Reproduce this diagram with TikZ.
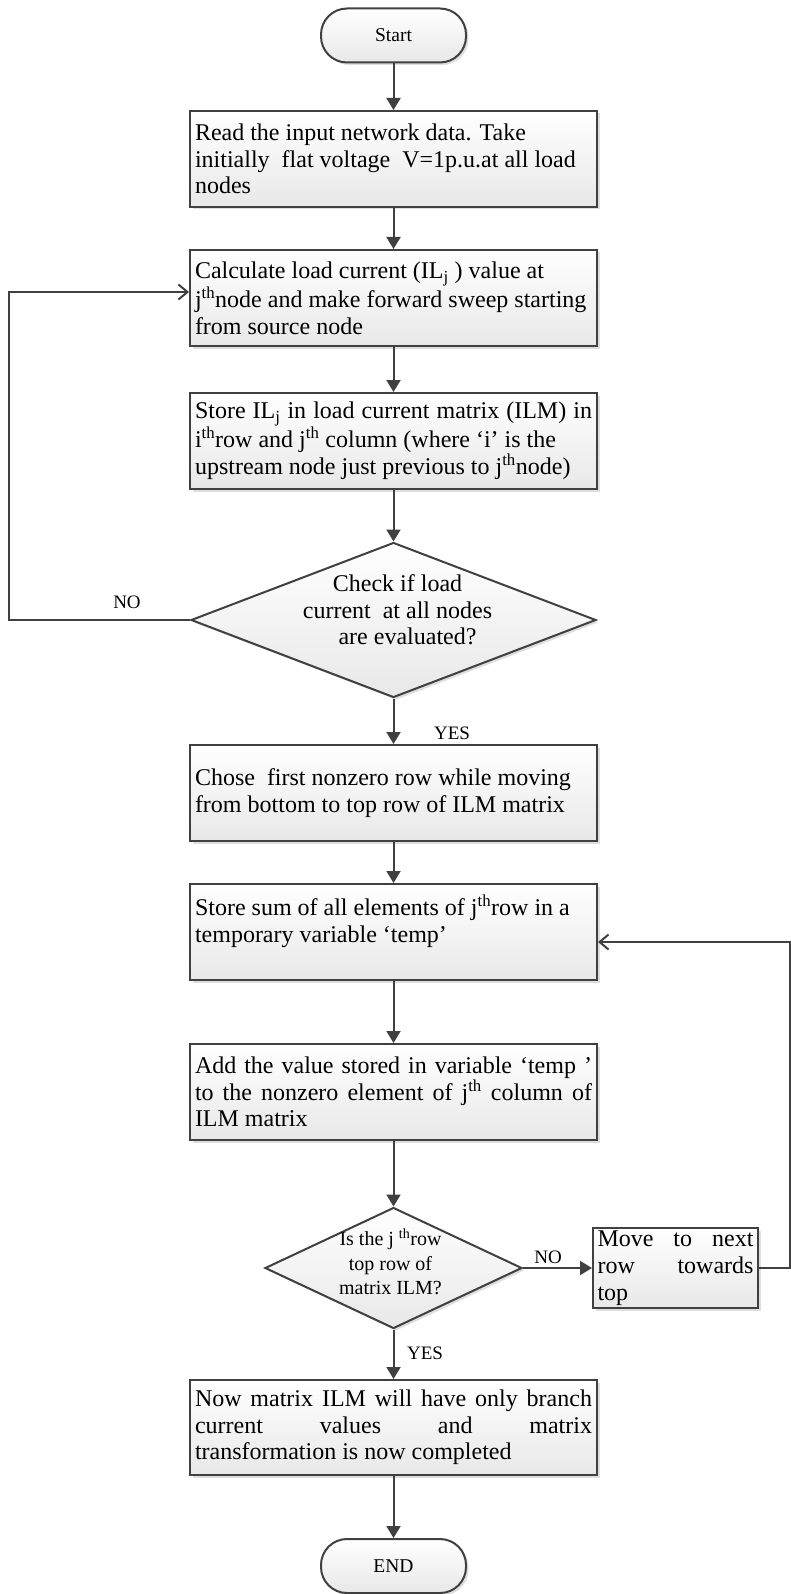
\documentclass[tikz,border=0pt]{standalone}
\usepackage{fontspec}
\setmainfont{Liberation Serif}
\usetikzlibrary{arrows.meta,shapes.geometric,shadows}

\definecolor{edge}{RGB}{64,64,64}
\definecolor{fillbot}{RGB}{232,232,232}

% one line of box text: stretched to the full width, or flush left
\newcommand\jline[2][397pt]{\hbox to #1{#2}}
\newcommand\lline[2][397pt]{\hbox to #1{#2\hfil}}

\begin{document}
\begin{tikzpicture}[x=1pt,y=-1pt,
  base/.style={draw=edge, line width=2pt, top color=white, bottom color=fillbot,
    drop shadow={shadow xshift=2.5pt, shadow yshift=-2.5pt, fill=black, opacity=0.13},
    inner sep=0pt},
  procbox/.style={base, rectangle, minimum width=407pt, minimum height=96pt,
    font=\fontsize{24pt}{26.7pt}\selectfont},
  termbox/.style={base, rectangle, rounded corners=26pt, minimum width=145pt,
    minimum height=54pt, font=\fontsize{19.5pt}{22pt}\selectfont},
  decbox/.style={base, diamond},
  dtext/.style={align=center, inner sep=0pt},
  tag/.style={font=\fontsize{19pt}{22pt}\selectfont, inner sep=0pt},
  flow/.style={draw=edge, line width=2pt, -{Triangle[length=12pt,width=14pt]}},
  back/.style={draw=edge, line width=2pt, -{Straight Barb[length=9pt,width=15pt]}},
]
\useasboundingbox (0,0) rectangle (791,1594);

% terminals
\node[termbox] (start) at (393.5,35.5) {Start};
\node[termbox] (end) at (393.5,1566) {END};

% process steps
\node[procbox] (b1) at (393.5,159) {\vbox{%
  \lline{Read the input network data. Take}%
  \lline{initially\ \ flat voltage\ \ V=1p.u.at all load}%
  \lline{nodes}}};

\node[procbox] (b2) at (393.5,298) {\vbox{%
  \lline{Calculate load current (IL\textsubscript{j} ) value at}%
  \lline{j\textsuperscript{th}node and make forward sweep starting}%
  \lline{from source node}}};

\node[procbox] (b3) at (393.5,441) {\vbox{%
  \jline{Store IL\textsubscript{j} in load current matrix (ILM) in}%
  \lline{i\textsuperscript{th}row and j\textsuperscript{th} column (where ‘i’ is the}%
  \lline{upstream node just previous to j\textsuperscript{th}node)}}};

\node[decbox, minimum width=405pt, minimum height=155pt,
  label={[dtext, font=\fontsize{24pt}{26.7pt}\selectfont, xshift=4pt, yshift=10pt]center:{Check if load\\current\ \ at all nodes\\\hspace*{20pt}are evaluated?}}]
  (d1) at (393.5,620) {};

\node[procbox] (b4) at (393.5,793) {\vbox{%
  \lline{Chose\ \ first nonzero row while moving}%
  \lline{from bottom to top row of ILM matrix}}};

\node[procbox] (b5) at (393.5,932) {\vbox{%
  \lline{Store sum of all elements of j\textsuperscript{th}row in a}%
  \lline{temporary variable ‘temp’}%
  \lline{}}};

\node[procbox] (b6) at (393.5,1092) {\vbox{%
  \jline{Add the value stored in variable ‘temp ’}%
  \jline{to the nonzero element of j\textsuperscript{th} column of}%
  \lline{ILM matrix}}};

\node[decbox, minimum width=257pt, minimum height=121pt,
  label={[dtext, font=\fontsize{20pt}{24.5pt}\selectfont, xshift=-3pt, yshift=6pt]center:{Is the j \textsuperscript{th}row\\top row of\\matrix ILM?}}]
  (d2) at (393.5,1268) {};

\node[procbox, minimum width=165pt, minimum height=80pt] (b7) at (675.5,1268) {\vbox{%
  \jline[156pt]{Move to next}%
  \jline[156pt]{row towards}%
  \lline[156pt]{top}}};

\node[procbox, minimum height=95pt] (b8) at (393.5,1427.5) {\vbox{%
  \jline{Now matrix ILM will have only branch}%
  \jline{current values and matrix}%
  \lline{transformation is now completed}}};

% branch labels
\node[tag] (no1) at (127,602) {NO};
\node[tag] (yes1) at (452,733) {YES};
\node[tag] (no2) at (548,1257) {NO};
\node[tag] (yes2) at (425,1353) {YES};

% main flow
\draw[flow] (start) -- (b1);
\draw[flow] (b1) -- (b2);
\draw[flow] (b2) -- (b3);
\draw[flow] (b3) -- (d1);
\draw[flow] (d1) -- (b4);
\draw[flow] (b4) -- (b5);
\draw[flow] (b5) -- (b6);
\draw[flow] (b6) -- (d2);
\draw[flow] (d2) -- (b7);
\draw[flow] (d2) -- (b8);
\draw[flow] (b8) -- (end);

% return loops
\coordinate (loopL) at (9,292);
\coordinate (loopR) at (789.5,942);
\draw[back] (d1.west) -| (loopL) -- (loopL -| b2.west);
\draw[back] (b7.east) -| (loopR) -- (loopR -| b5.east);
\end{tikzpicture}
\end{document}
